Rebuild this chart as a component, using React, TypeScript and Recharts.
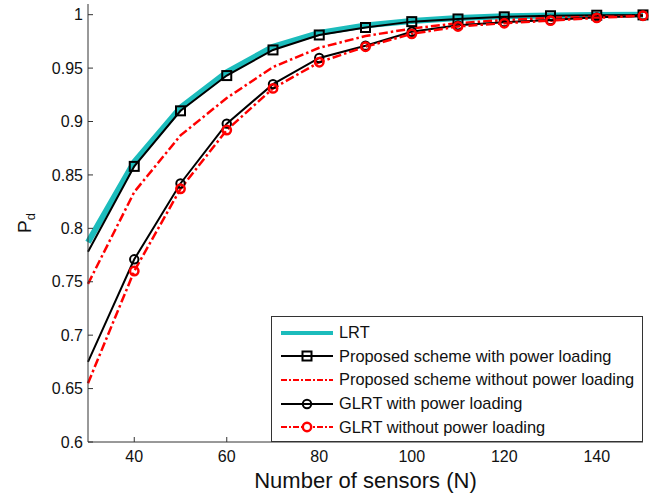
import { LineChart, Line, XAxis, YAxis, Legend } from "recharts";

const sensors = [30, 40, 50, 60, 70, 80, 90, 100, 110, 120, 130, 140, 150];
const lrt = [0.787, 0.862, 0.913, 0.946, 0.97, 0.983, 0.99, 0.994, 0.997, 0.9985, 0.9993, 0.9997, 1.0];
const propWith = [0.778, 0.858, 0.91, 0.943, 0.967, 0.981, 0.988, 0.9935, 0.996, 0.998, 0.999, 0.9995, 0.9998];
const propWithout = [0.748, 0.834, 0.887, 0.922, 0.951, 0.969, 0.98, 0.987, 0.992, 0.995, 0.997, 0.998, 0.999];
const glrtWith = [0.675, 0.771, 0.842, 0.898, 0.935, 0.9595, 0.971, 0.984, 0.99, 0.993, 0.995, 0.9975, 0.999];
const glrtWithout = [0.655, 0.76, 0.837, 0.892, 0.931, 0.9555, 0.97, 0.982, 0.989, 0.992, 0.9944, 0.997, 0.999];

const xTicks = [40, 60, 80, 100, 120, 140];
const yTicks = [0.6, 0.65, 0.7, 0.75, 0.8, 0.85, 0.9, 0.95, 1];

const labels = [
  "LRT",
  "Proposed scheme with power loading",
  "Proposed scheme without power loading",
  "GLRT with power loading",
  "GLRT without power loading",
];

const data = sensors.map((n, i) => ({
  n,
  lrt: lrt[i],
  propWith: propWith[i],
  propWithout: propWithout[i],
  glrtWith: glrtWith[i],
  glrtWithout: glrtWithout[i],
}));

const FONT = '"Liberation Sans", Arial, sans-serif';
const CYAN = "#1cbcbc";
const RED = "#ff0000";
const DASHDOT = "9 3 2.5 3";
const AXIS = "#333";

// the curves come in from the left edge, markers only from N = 40 on
const squareDot = (props: any) => {
  const { cx, cy, index } = props;
  if (cx == null || cy == null || index === 0) return <g key={index} />;
  return (
    <rect key={index} x={cx - 4.5} y={cy - 4.5} width={9} height={9} fill="none" stroke="#000" strokeWidth={2} />
  );
};

const circleDot = (color: string, sw: number) => (props: any) => {
  const { cx, cy, index } = props;
  if (cx == null || cy == null || index === 0) return <g key={index} />;
  return <circle key={index} cx={cx} cy={cy} r={4.2} fill="none" stroke={color} strokeWidth={sw} />;
};

// little line+marker samples for the legend box
function Sample({ i }: { i: number }) {
  return (
    <svg width={52} height={14} style={{ display: "block", flex: "none" }}>
      {i === 0 && <line x1={0} x2={52} y1={7} y2={7} stroke={CYAN} strokeWidth={4} />}
      {i === 1 && (
        <>
          <line x1={0} x2={52} y1={7} y2={7} stroke="#000" strokeWidth={2} />
          <rect x={21.5} y={2.5} width={9} height={9} fill="none" stroke="#000" strokeWidth={2} />
        </>
      )}
      {i === 2 && <line x1={0} x2={52} y1={7} y2={7} stroke={RED} strokeWidth={2} strokeDasharray="6 2 2 2" />}
      {i === 3 && (
        <>
          <line x1={0} x2={52} y1={7} y2={7} stroke="#000" strokeWidth={2} />
          <circle cx={26} cy={7} r={4.2} fill="none" stroke="#000" strokeWidth={2} />
        </>
      )}
      {i === 4 && (
        <>
          <line x1={0} x2={52} y1={7} y2={7} stroke={RED} strokeWidth={2} strokeDasharray="6 2 2 2" />
          <circle cx={26} cy={7} r={4.2} fill="#fff" stroke={RED} strokeWidth={2.5} />
        </>
      )}
    </svg>
  );
}

const renderLegend = () => (
  <div
    style={{
      boxSizing: "border-box",
      width: 372,
      height: 126,
      border: `1px solid ${AXIS}`,
      background: "#fff",
      padding: "4px 0 0 9px",
      fontFamily: FONT,
      fontSize: 16.4,
      color: "#111",
    }}
  >
    {labels.map((l, i) => (
      <div key={l} style={{ height: 23.6, display: "flex", alignItems: "center" }}>
        <Sample i={i} />
        <span style={{ marginLeft: 6, whiteSpace: "nowrap" }}>{l}</span>
      </div>
    ))}
  </div>
);

const YLabel = (props: any) => {
  const vb = props.viewBox || {};
  const cy = (vb.y ?? 0) + (vb.height ?? 0) / 2;
  const x = 31;
  return (
    <text x={x} y={cy} transform={`rotate(-90 ${x} ${cy})`} textAnchor="middle" fontFamily={FONT} fontSize={19} fill="#111">
      P<tspan dy={4} fontSize={13}>d</tspan>
    </text>
  );
};

export default function App() {
  return (
    <div style={{ position: "absolute", left: 0, top: 0, width: 652, height: 495, background: "#fff" }}>
      <LineChart width={652} height={495} data={data} margin={{ top: 4, right: 9, left: 0, bottom: 0 }}>
        <XAxis
          dataKey="n"
          type="number"
          domain={[30, 150]}
          ticks={xTicks}
          height={53}
          stroke={AXIS}
          tickSize={-5}
          tickMargin={14}
          tick={{ fontSize: 16, fontFamily: FONT, fill: "#111" }}
          label={{ value: "Number of sensors (N)", position: "insideBottom", offset: 7, fontSize: 22, fontFamily: FONT, fill: "#111" }}
        />
        <XAxis xAxisId="top" orientation="top" dataKey="n" type="number" domain={[30, 150]} ticks={xTicks} height={0} stroke={AXIS} tickSize={-5} tick={false} />
        <YAxis
          type="number"
          domain={[0.6, 1.01]}
          allowDataOverflow
          ticks={yTicks}
          width={88}
          stroke={AXIS}
          tickSize={-5}
          tickMargin={10}
          tickFormatter={(v: number) => String(v)}
          tick={{ fontSize: 16, fontFamily: FONT, fill: "#111" }}
          label={{ content: YLabel }}
        />
        <YAxis yAxisId="right" orientation="right" type="number" domain={[0.6, 1.01]} allowDataOverflow ticks={yTicks} width={0} stroke={AXIS} tickSize={-5} tick={false} />
        <Line dataKey="lrt" stroke={CYAN} strokeWidth={6} dot={false} activeDot={false} isAnimationActive={false} />
        <Line dataKey="propWith" stroke="#000" strokeWidth={2} dot={squareDot} activeDot={false} isAnimationActive={false} />
        <Line dataKey="propWithout" stroke={RED} strokeWidth={2.5} strokeDasharray={DASHDOT} dot={false} activeDot={false} isAnimationActive={false} />
        <Line dataKey="glrtWith" stroke="#000" strokeWidth={2} dot={circleDot("#000", 2)} activeDot={false} isAnimationActive={false} />
        <Line
          dataKey="glrtWithout"
          stroke={RED}
          strokeWidth={2.5}
          strokeDasharray={DASHDOT}
          dot={circleDot(RED, 2.5)}
          activeDot={false}
          isAnimationActive={false}
        />
        <Legend layout="vertical" align="center" verticalAlign="middle" wrapperStyle={{ left: 271, top: 316, width: 372, height: 126 }} content={renderLegend} />
      </LineChart>
    </div>
  );
}
